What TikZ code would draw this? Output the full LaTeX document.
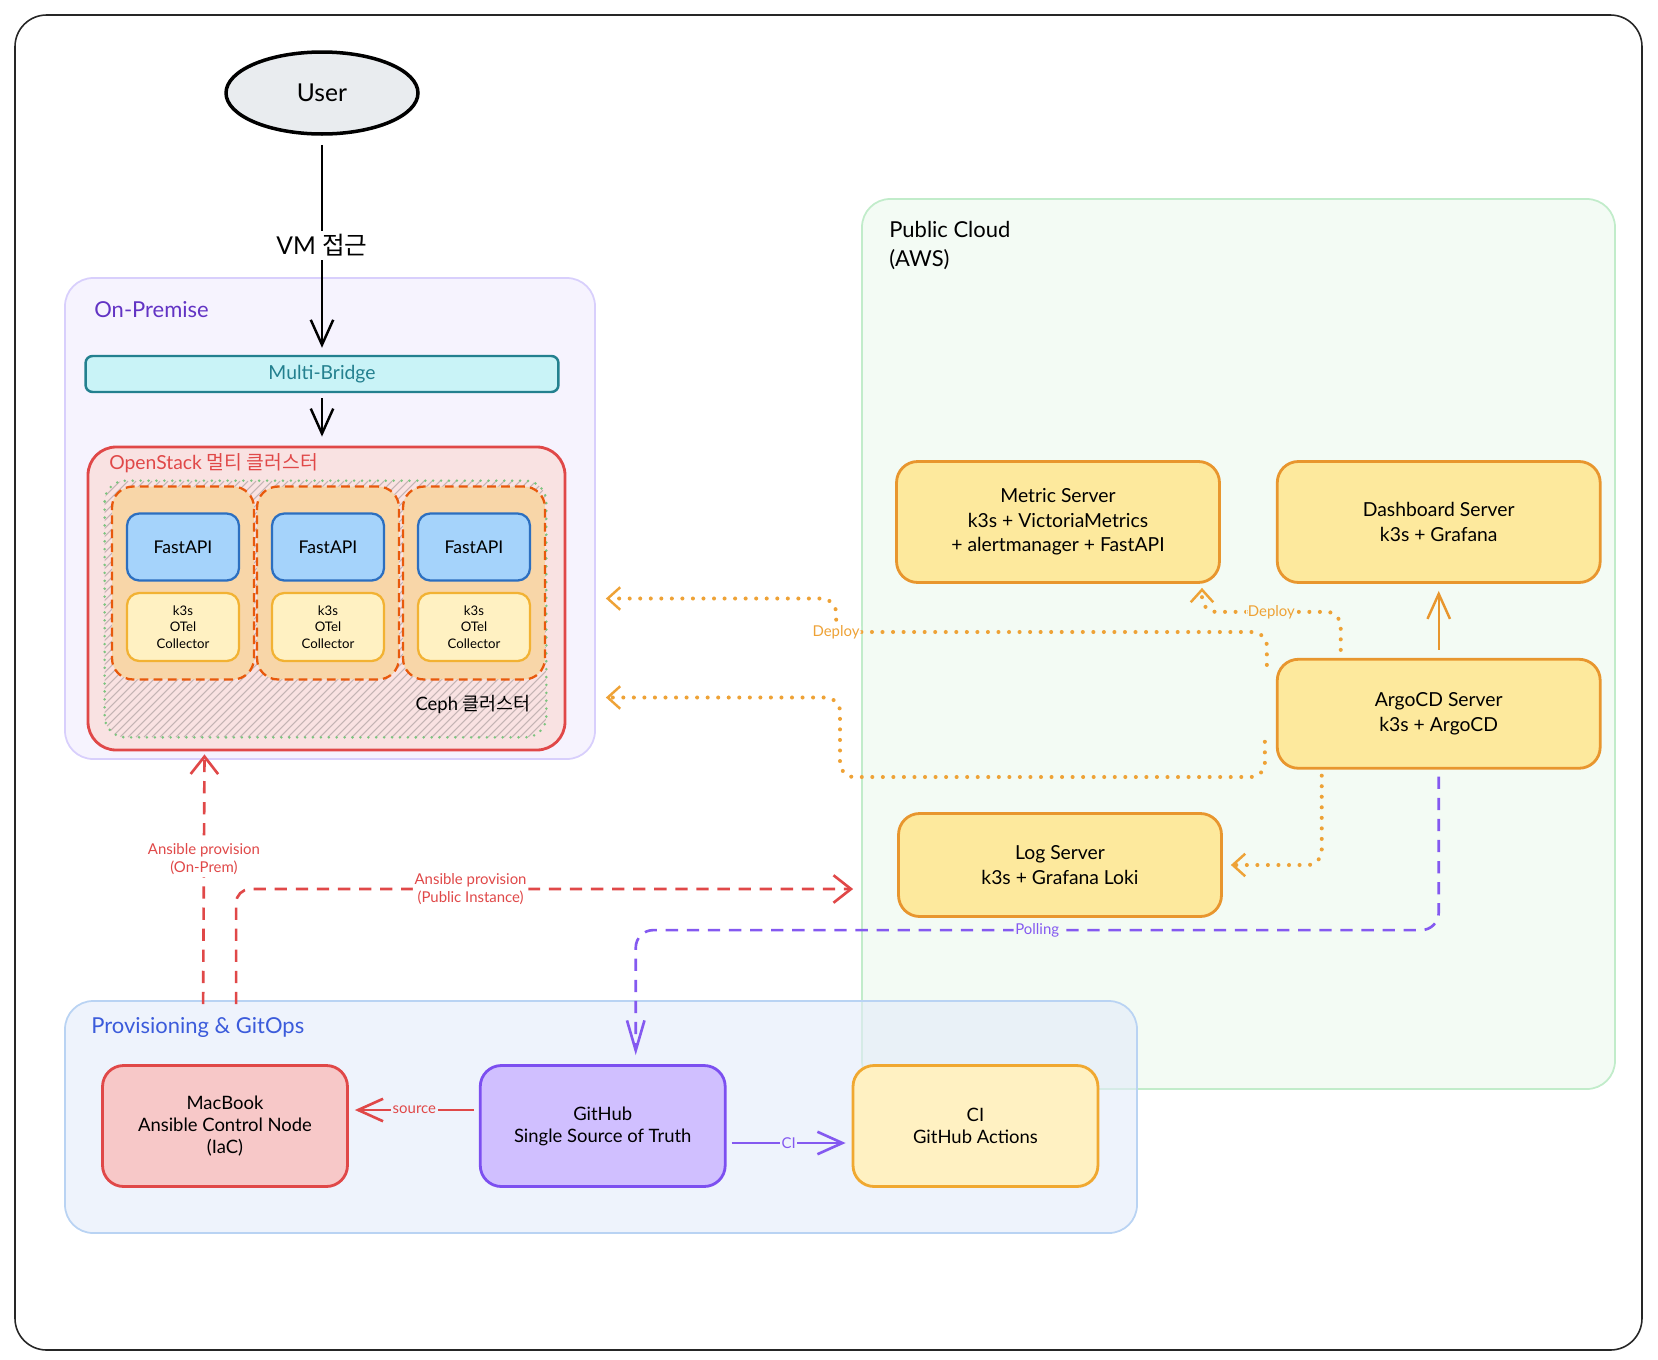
\documentclass[tikz,border=0pt]{standalone}
\usepackage{fontspec}
\setmainfont{Lato}
\newfontfamily\kr{Noto Sans CJK KR}
\usepackage{xcolor}
\usetikzlibrary{positioning,calc,arrows.meta,shapes.geometric,fit}

\definecolor{premfill}{HTML}{F6F3FE}
\definecolor{premline}{HTML}{D8CFFC}
\definecolor{premtext}{HTML}{6233C4}
\definecolor{bridgefill}{HTML}{C9F3F7}
\definecolor{bridgeline}{HTML}{23808F}
\definecolor{osfill}{HTML}{F9E2E2}
\definecolor{redcol}{HTML}{E04848}
\definecolor{podfill}{HTML}{F8D6A8}
\definecolor{podline}{HTML}{E8590C}
\definecolor{apifill}{HTML}{A5D3FB}
\definecolor{apiline}{HTML}{2C6FC0}
\definecolor{otelfill}{HTML}{FFF1C2}
\definecolor{otelline}{HTML}{F2B233}
\definecolor{cephline}{HTML}{7CC47F}
\definecolor{hatchcol}{HTML}{C4B4B4}
\definecolor{srvfill}{HTML}{FDE99D}
\definecolor{srvline}{HTML}{E8962E}
\definecolor{cloudfill}{HTML}{F3FBF4}
\definecolor{cloudline}{HTML}{C1ECCA}
\definecolor{provfill}{HTML}{E3EBFA}
\definecolor{provline}{HTML}{B9D3F3}
\definecolor{provtext}{HTML}{3B5BDB}
\definecolor{macfill}{HTML}{F7C8C8}
\definecolor{ghfill}{HTML}{D0BFFF}
\definecolor{ghline}{HTML}{7C4FF0}
\definecolor{cifill}{HTML}{FFF1C2}
\definecolor{ciline}{HTML}{F0A830}
\definecolor{deploycol}{HTML}{EEA236}
\definecolor{pollcol}{HTML}{8459F0}
\definecolor{userfill}{HTML}{E9ECEF}

\begin{document}
\begin{tikzpicture}[x=0.02cm, y=-0.02cm, >={Straight Barb[length=5mm,width=4.5mm]},
  zone/.style={draw, line width=1pt, rounded corners=16pt, inner sep=0pt},
  zonetitle/.style={anchor=west, inner sep=0pt, font=\fontsize{12.5}{16.5}\selectfont},
  box/.style={draw, line width=1.6pt, rounded corners=12pt, align=center, inner sep=0pt, font=\fontsize{11}{14}\selectfont},
  server/.style={box, draw=srvline, fill=srvfill, minimum width=6.46cm},
  lower/.style={box, minimum width=4.9cm, minimum height=2.42cm, font=\fontsize{10.5}{12.6}\selectfont},
  pod/.style={draw=podline, fill=podfill, line width=1.3pt, dash pattern=on 5pt off 3pt, rounded corners=12pt, minimum width=2.84cm, minimum height=3.86cm},
  small/.style={box, line width=1.3pt, rounded corners=7pt, minimum width=2.24cm},
  lbl/.style={inner sep=1pt, align=center, font=\fontsize{8.5}{10.5}\selectfont},
  deploy/.style={draw=deploycol, line width=2.3pt, line cap=round, dash pattern=on 0pt off 6pt, rounded corners=8pt, -{Straight Barb[length=2.5mm,width=4.5mm,line width=1.4pt]}},
  ansible/.style={draw=redcol, line width=1.5pt, dash pattern=on 7pt off 5pt, rounded corners=8pt, -{Straight Barb[length=3.5mm,width=5.5mm]}},
  polling/.style={draw=pollcol, line width=1.5pt, dash pattern=on 7pt off 5pt, rounded corners=10pt, -{Straight Barb[length=6mm,width=3.5mm]}}]

\useasboundingbox (0,0) rectangle (1658,1360);
\node[draw=black!85, line width=0.9pt, rounded corners=18pt, inner sep=0pt, fit={(15,15) (1642,1350)}] (frame) {};

% zones
\node[zone, draw=cloudline, fill=cloudfill, fit={(862,199) (1615,1089)}] (cloud) {};
\node[zone, draw=premline, fill=premfill, fit={(65,278) (595,759)}] (onprem) {};
\node[zone, draw=provline, fill=provfill, fill opacity=.6, fit={(65,1001) (1137,1233)}] (prov) {};
\node[zonetitle, anchor=north west, align=left] (cloudtitle) at (889,221) {Public Cloud\\(AWS)};
\node[zonetitle, text=premtext] (premtitle) at (94,310) {On-Premise};
\node[zonetitle, text=provtext] (provtitle) at (91,1027) {Provisioning \& GitOps};

% on-premise
\node[ellipse, draw, line width=2pt, fill=userfill, minimum width=3.84cm, minimum height=1.64cm, font=\fontsize{14}{16}\selectfont] (user) at (322,93) {User};
\node[draw=bridgeline, fill=bridgefill, text=bridgeline, line width=1.4pt, rounded corners=4pt, inner sep=0pt, font=\fontsize{11}{13}\selectfont, minimum width=9.46cm, minimum height=0.72cm] (bridge) at (322,374) {Multi-Bridge};
\node[draw=redcol, fill=osfill, line width=1.6pt, rounded corners=16pt, inner sep=0pt, fit={(88,447) (565,750)}] (os) {};
\node[anchor=west, inner sep=0pt, text=redcol, font=\fontsize{11}{13}\selectfont] (ostitle) at (109,463) {OpenStack {\kr 멀티 클러스터}};
\node[inner sep=0pt, fit={(105,481) (546,737)}] (ceph) {};
\begin{scope}
  \clip[rounded corners=12pt] (ceph.north west) rectangle (ceph.south east);
  \foreach \k in {-256,-248,...,546}
    \draw[hatchcol, line width=.6pt] (\k,737) -- ++(256,-256);
\end{scope}
\draw[cephline, line width=1.6pt, dash pattern=on 0pt off 4.5pt, line cap=round, rounded corners=12pt] (ceph.north west) rectangle (ceph.south east);

\foreach \i/\cx in {1/183, 2/328, 3/474} {
  \node[pod] (pod\i) at (\cx,583) {};
  \node[small, draw=apiline, fill=apifill, minimum height=1.34cm, font=\fontsize{10}{12}\selectfont] (api\i) at (\cx,547) {FastAPI};
  \node[small, draw=otelline, fill=otelfill, minimum height=1.36cm, font=\fontsize{7.5}{9.5}\selectfont] (otel\i) at (\cx,627) {k3s\\OTel\\Collector};
}
\node[anchor=east, inner sep=0pt, font=\fontsize{10.5}{12}\selectfont] (cephtitle) at (531,704) {Ceph {\kr 클러스터}};

% public cloud
\node[server, minimum height=2.42cm] (metric) at (1058,522) {Metric Server\\k3s + VictoriaMetrics\\+ alertmanager + FastAPI};
\node[server, minimum height=2.42cm, right=1.1cm of metric] (dash) {Dashboard Server\\k3s + Grafana};
\node[server, minimum height=2.18cm, below=1.48cm of dash] (argo) {ArgoCD Server\\k3s + ArgoCD};
\node[server, minimum height=2.06cm] (log) at (1060,865) {Log Server\\k3s + Grafana Loki};

% provisioning
\node[lower, draw=redcol, fill=macfill] (mac) at (225,1126) {MacBook\\Ansible Control Node\\(IaC)};
\node[lower, draw=ghline, fill=ghfill, right=2.6cm of mac] (github) {GitHub\\Single Source of Truth};
\node[lower, draw=ciline, fill=cifill, right=2.5cm of github] (ci) {CI\\GitHub Actions};

% connectors
\draw[->, line width=1.4pt, shorten <=1.8mm, shorten >=1.4mm] (user) -- node[fill=white, inner sep=2pt, font=\fontsize{14}{16}\selectfont] (vm) {VM {\kr 접근}} (bridge);
\draw[->, line width=1.4pt, shorten <=1mm, shorten >=1.8mm] (bridge.south) -- (bridge.south |- os.north);
\draw[->, draw=srvline, line width=1.4pt, shorten <=1.6mm, shorten >=1.4mm] (argo) -- (dash);

\draw[deploy] ($(argo.north)+(-98,-8)$) |- node[lbl, pos=.75, fill=cloudfill, text=deploycol] {Deploy} ($(metric.south)+(144,28)$) -- ($(metric.south)+(144,4)$);
\draw[deploy] ($(argo.north west)+(-9,7)$) |- (836,632) node[lbl, fill=white, text=deploycol] {Deploy} |- ($(onprem.east)+(10,80)$);
\draw[deploy] ($(argo.west)+(-11,28)$) |- (840,777) |- ($(onprem.east)+(10,179)$);
\draw[deploy] ($(argo.south)+(-117,6)$) |- ($(log.east)+(8,0)$);

\draw[polling] ($(argo.south)+(0,7)$) |- node[lbl, pos=.75, fill=cloudfill, text=pollcol] {Polling} ($(github.north)+(33,-134)$) -- ($(github.north)+(33,-9)$);

\draw[ansible] ($(prov.north west)+(139,4)$) -- node[lbl, pos=.58, fill=white, text=redcol] {Ansible provision\\(On-Prem)} ($(os.south)+(-122,3)$);
\draw[ansible] ($(prov.north west)+(172,4)$) |- node[lbl, pos=.69, fill=white, text=redcol] {Ansible provision\\(Public Instance)} ($(cloud.west)+(-8,245)$);

\draw[->, draw=redcol, line width=1.5pt] ($(github.west)+(-5,-16)$) -- node[lbl, fill=provfill!60, text=redcol] {source} ($(mac.east)+(6,-16)$);
\draw[->, draw=pollcol, line width=1.5pt] ($(github.east)+(5,17)$) -- node[lbl, fill=provfill!60, text=pollcol] {CI} ($(ci.west)+(-6,17)$);
\end{tikzpicture}
\end{document}
